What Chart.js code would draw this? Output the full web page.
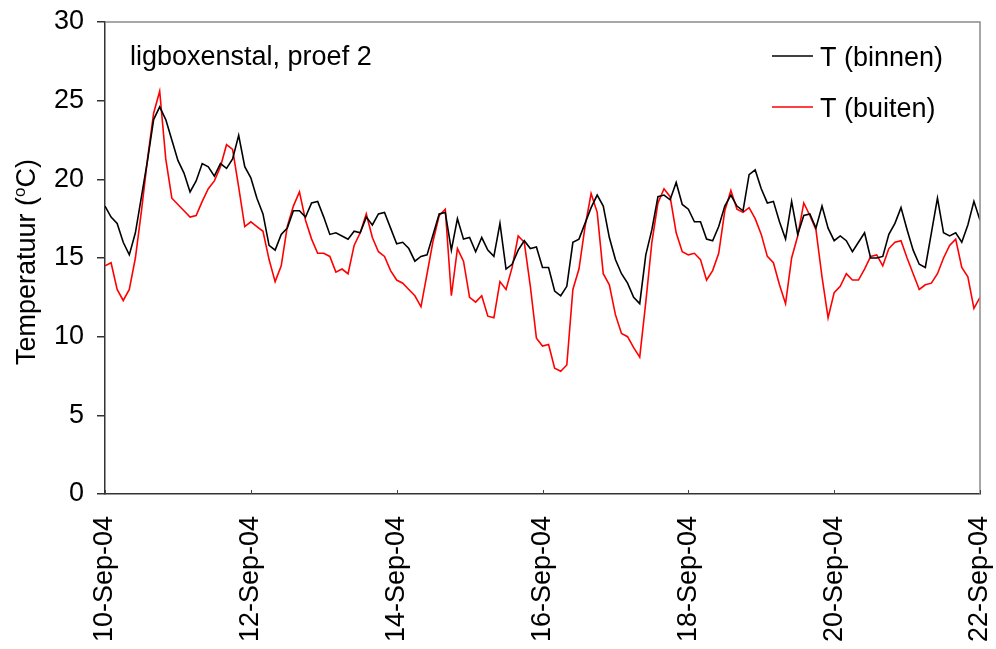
<!DOCTYPE html>
<html>
<head>
<meta charset="utf-8">
<script src="https://cdn.jsdelivr.net/npm/chart.js@4/dist/chart.umd.min.js"></script>
<style>
  html, body { margin: 0; padding: 0; background: #fff; }
  #wrap { width: 996px; height: 649px; }
</style>
</head>
<body>
<div id="wrap"><canvas id="c" width="996" height="649"></canvas></div>
<script>
// Time step between samples (hours); first sample at 10-Sep-04 00:00
const stepHours = 2;
const tickLabels = ['10-Sep-04', '12-Sep-04', '14-Sep-04', '16-Sep-04', '18-Sep-04', '20-Sep-04', '22-Sep-04'];
const seriesNames = ['T (binnen)', 'T (buiten)'];
const chartTitle = 'ligboxenstal, proef 2';

const tBinnen = [
  18.3, 17.6, 17.2, 16.0, 15.2, 16.6, 18.9, 21.2, 23.8, 24.6, 23.8, 22.5,
  21.2, 20.4, 19.2, 19.9, 21.0, 20.8, 20.2, 21.0, 20.7, 21.3, 22.8, 20.8,
  20.1, 18.8, 17.8, 15.8, 15.5, 16.5, 16.9, 18.0, 18.0, 17.6, 18.5, 18.6,
  17.6, 16.5, 16.6, 16.4, 16.2, 16.7, 16.6, 17.6, 17.1, 17.8, 17.9, 16.9,
  15.9, 16.0, 15.6, 14.8, 15.1, 15.2, 16.5, 17.8, 17.9, 15.5, 17.5, 16.2,
  16.3, 15.4, 16.3, 15.5, 15.1, 17.2, 14.3, 14.6, 15.5, 16.1, 15.6, 15.7,
  14.4, 14.4, 12.9, 12.6, 13.2, 16.0, 16.2, 17.2, 18.2, 19.0, 18.3, 16.3,
  14.9, 14.0, 13.4, 12.5, 12.1, 15.2, 16.8, 18.9, 19.0, 18.7, 19.8, 18.4,
  18.1, 17.3, 17.3, 16.2, 16.1, 17.0, 18.3, 19.0, 18.3, 18.0, 20.3, 20.6,
  19.4, 18.5, 18.6, 17.3, 16.2, 18.6, 16.5, 17.7, 17.8, 16.9, 18.3, 16.9,
  16.1, 16.4, 16.1, 15.4, 16.0, 16.6, 15.0, 15.0, 15.1, 16.5, 17.2, 18.2,
  16.8, 15.5, 14.6, 14.4, 16.6, 18.8, 16.6, 16.4, 16.6, 16.0, 17.1, 18.6,
  17.4
];

const tBuiten = [
  14.5, 14.7, 13.0, 12.3, 13.0, 15.0, 18.0, 21.3, 24.2, 25.6, 21.3, 18.8,
  18.4, 18.0, 17.6, 17.7, 18.6, 19.4, 19.9, 20.8, 22.2, 21.9, 19.5, 17.0,
  17.3, 17.0, 16.7, 14.9, 13.5, 14.5, 17.0, 18.3, 19.2, 17.4, 16.2, 15.3,
  15.3, 15.1, 14.1, 14.3, 14.0, 15.8, 16.6, 17.8, 16.3, 15.4, 15.1, 14.2,
  13.6, 13.4, 13.0, 12.6, 11.9, 14.0, 16.1, 17.7, 18.1, 12.6, 15.6, 14.8,
  12.5, 12.2, 12.6, 11.3, 11.2, 13.5, 13.0, 14.4, 16.4, 16.0, 13.2, 9.9,
  9.4, 9.5, 8.0, 7.8, 8.2, 13.0, 14.3, 17.0, 19.1, 17.9, 14.0, 13.3,
  11.4, 10.2, 10.0, 9.3, 8.7, 12.2, 16.0, 18.5, 19.4, 18.9, 16.6, 15.4,
  15.2, 15.3, 14.9, 13.6, 14.2, 15.3, 18.0, 19.3, 18.1, 17.9, 18.2, 17.5,
  16.5, 15.1, 14.7, 13.3, 12.1, 15.0, 16.4, 18.5, 17.7, 16.8, 13.8, 11.2,
  12.8, 13.2, 14.0, 13.6, 13.6, 14.3, 15.1, 15.2, 14.5, 15.6, 16.0, 16.1,
  15.0, 14.0, 13.0, 13.3, 13.4, 14.0, 15.0, 15.8, 16.2, 14.4, 13.8, 11.8,
  12.5
];

const yTicks = [0, 5, 10, 15, 20, 25, 30];

const FONT = 'Liberation Sans, Arial, sans-serif';
const toPoints = arr => arr.map((v, i) => ({ x: i * stepHours, y: v }));
const totalHours = (tickLabels.length - 1) * 48;

const zeroPad = s => { s.paddingLeft = 0; s.paddingRight = 0; s.paddingTop = 0; s.paddingBottom = 0; };

const decorPlugin = {
  id: 'decor',
  afterDraw(chart) {
    const ctx = chart.ctx;
    const a = chart.chartArea;
    const xs = chart.scales.x;
    ctx.save();
    // frame top and right
    ctx.strokeStyle = '#8a8a8a';
    ctx.lineWidth = 1.5;
    ctx.beginPath();
    ctx.moveTo(a.left, a.top);
    ctx.lineTo(a.right, a.top);
    ctx.lineTo(a.right, a.bottom);
    ctx.stroke();
    // inside x ticks
    ctx.strokeStyle = '#444';
    ctx.lineWidth = 1;
    xs.ticks.forEach(t => {
      const px = Math.round(xs.getPixelForValue(t.value)) + 0.5;
      ctx.beginPath();
      ctx.moveTo(px, a.bottom);
      ctx.lineTo(px, a.bottom - 4);
      ctx.stroke();
    });
    // annotation
    ctx.fillStyle = '#000';
    ctx.font = '27px ' + FONT;
    ctx.textAlign = 'left';
    ctx.textBaseline = 'alphabetic';
    ctx.fillText(chartTitle, 130, 65);
    // legend
    const legY = [56, 107];
    chart.data.datasets.forEach((ds, k) => {
      ctx.strokeStyle = ds.borderColor;
      ctx.lineWidth = 1.5;
      ctx.beginPath();
      ctx.moveTo(772, legY[k]);
      ctx.lineTo(813, legY[k]);
      ctx.stroke();
      ctx.fillStyle = '#000';
      ctx.fillText(ds.label, 820, legY[k] + 10);
    });
    // y axis title with superscript
    ctx.translate(35, 262);
    ctx.rotate(-Math.PI / 2);
    const p1 = 'Temperatuur (';
    const sup = 'o';
    const p2 = 'C)';
    ctx.font = '27px ' + FONT;
    const w1 = ctx.measureText(p1).width;
    const w3 = ctx.measureText(p2).width;
    ctx.font = '17px ' + FONT;
    const w2 = ctx.measureText(sup).width;
    const total = w1 + w2 + w3;
    let x0 = -total / 2;
    ctx.font = '27px ' + FONT;
    ctx.fillText(p1, x0, 0);
    ctx.font = '17px ' + FONT;
    ctx.fillText(sup, x0 + w1, -10);
    ctx.font = '27px ' + FONT;
    ctx.fillText(p2, x0 + w1 + w2, 0);
    ctx.restore();
  }
};

new Chart(document.getElementById('c'), {
  type: 'line',
  data: {
    datasets: [
      { label: seriesNames[0], data: toPoints(tBinnen), borderColor: '#000000', borderWidth: 1.6, pointRadius: 0, tension: 0, fill: false },
      { label: seriesNames[1], data: toPoints(tBuiten), borderColor: '#ff0000', borderWidth: 1.6, pointRadius: 0, tension: 0, fill: false }
    ]
  },
  options: {
    responsive: false,
    animation: false,
    layout: { padding: { top: 22, right: 16, left: 0, bottom: 0 } },
    plugins: { legend: { display: false }, tooltip: { enabled: false }, title: { display: false } },
    scales: {
      x: {
        type: 'linear',
        min: 0,
        max: totalHours,
        afterFit: s => { s.height = 155; zeroPad(s); },
        afterBuildTicks: s => { s.ticks = tickLabels.map((_, i) => ({ value: i * 48 })); },
        ticks: {
          autoSkip: false,
          minRotation: 90,
          maxRotation: 90,
          padding: 22,
          color: '#000',
          font: { family: FONT, size: 27 },
          callback: v => tickLabels[Math.round(v / 48)]
        },
        grid: { drawOnChartArea: false, drawTicks: false },
        border: { display: true, color: '#333', width: 1.5 }
      },
      y: {
        min: 0,
        max: 30,
        afterFit: s => { s.width = 105; zeroPad(s); },
        afterBuildTicks: s => { s.ticks = yTicks.map(v => ({ value: v })); },
        ticks: {
          color: '#000',
          padding: 13,
          font: { family: FONT, size: 27 }
        },
        grid: { drawOnChartArea: false, drawTicks: true, tickLength: 8, color: '#333', lineWidth: 1.5 },
        border: { display: true, color: '#333', width: 1.5 }
      }
    }
  },
  plugins: [decorPlugin]
});
</script>
</body>
</html>
